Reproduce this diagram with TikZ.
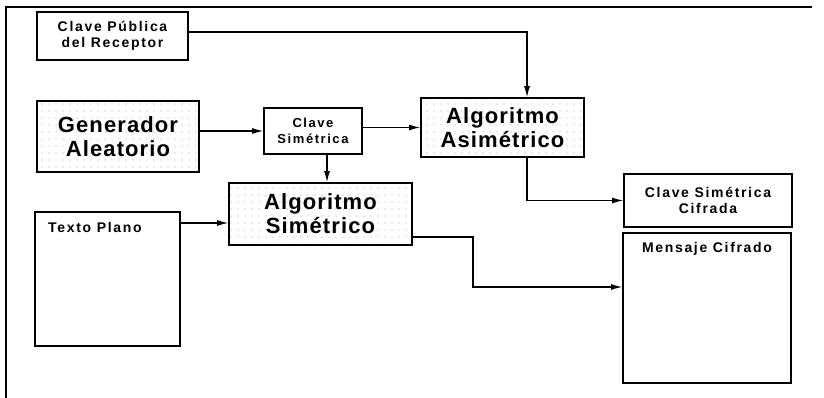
\documentclass[tikz,border=0pt]{standalone}
\usepackage{fontspec}
\setmainfont{Liberation Sans}
\newfontfamily\bigf[LetterSpace=5]{Liberation Sans}
\newfontfamily\smf[LetterSpace=12]{Liberation Sans}
\usetikzlibrary{arrows.meta,patterns.meta}
\tikzset{
  box/.style={draw, line width=1.6pt, inner sep=0pt, align=center},
  dotbox/.style={box, pattern={Dots[radius=0.6pt,distance=7pt]}, pattern color=gray!70},
  bigtxt/.style={font=\bigf\bfseries\fontsize{22}{24}\selectfont},
  smtxt/.style={font=\smf\bfseries\fontsize{14}{15.5}\selectfont},
  lbl/.style={inner sep=0pt, font=\smf\bfseries\fontsize{14}{15.5}\selectfont},
  arr/.style={line width=1.2pt, -{Latex[length=11pt,width=6pt]}},
}
\begin{document}
\begin{tikzpicture}[x=1pt,y=-1pt]
\useasboundingbox (0,0) rectangle (824,398);
\draw[line width=1.3pt] (6,398) -- (6,7) -- (812,7);
% nodes
\node[box, smtxt, minimum width=151pt, minimum height=48pt] (cpr) at (112.5,36) {Clave Pública\\del Receptor};
\node[dotbox, bigtxt, minimum width=162pt, minimum height=71pt] (gen) at (118,136.5) {Generador\\Aleatorio};
\node[box, font=\smf\bfseries\fontsize{13}{16}\selectfont, minimum width=98pt, minimum height=46pt] (cs) at (313,131) {Clave\\Simétrica};
\node[dotbox, bigtxt, minimum width=163pt, minimum height=59pt] (asim) at (502.5,127.5) {Algoritmo\\Asimétrico};
\node[dotbox, bigtxt, minimum width=183pt, minimum height=62pt] (sim) at (320.5,214) {Algoritmo\\Simétrico};
\node[box, minimum width=145pt, minimum height=134pt] (tp) at (107.5,279) {};
\node[lbl, anchor=north west] (tpl) at (48,222) {Texto Plano};
\node[box, smtxt, minimum width=168pt, minimum height=53pt] (csc) at (708,200.5) {Clave Simétrica\\Cifrada};
\node[box, minimum width=168pt, minimum height=150pt] (mc) at (707,308) {};
\node[lbl, anchor=north] (mcl) at (707,242) {Mensaje Cifrado};
% connectors
\draw[arr] ([yshift=4pt]cpr.east) -| ([xshift=24.5pt]asim.north);
\draw[arr] (gen.east |- cs.west) -- (cs.west);
\draw[arr] (cs.east |- asim.west) -- (asim.west);
\draw[arr] ([xshift=14pt]cs.south) -- ([xshift=14pt]cs.south |- sim.north);
\draw[arr] ([yshift=-9pt]tp.east |- sim.west) -- ([yshift=-9pt]sim.west);
\draw[arr] ([xshift=24.5pt]asim.south) |- (csc.west);
\coordinate (k) at (473,287);
\draw[arr] ([yshift=-23pt]sim.east) -| (k) -- (k -| mc.west);
\end{tikzpicture}
\end{document}
